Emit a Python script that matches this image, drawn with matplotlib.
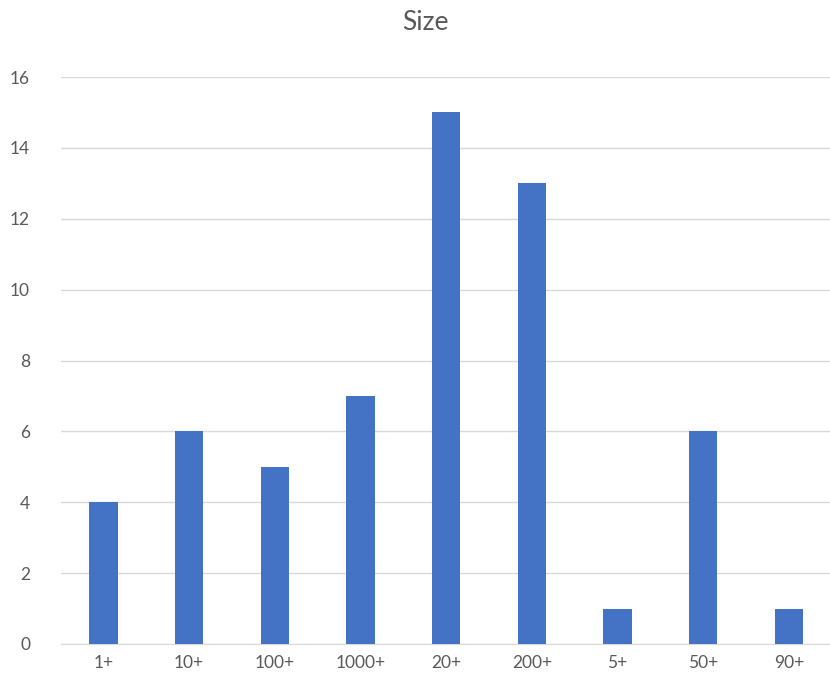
import matplotlib
matplotlib.use("Agg")
import matplotlib.pyplot as plt

categories = ["1+", "10+", "100+", "1000+", "20+", "200+", "5+", "50+", "90+"]
values = [4, 6, 5, 7, 15, 13, 1, 6, 1]
yticks = [0, 2, 4, 6, 8, 10, 12, 14, 16]

plt.rcParams['font.family'] = ['Lato', 'DejaVu Sans']
fig = plt.figure(figsize=(8.3, 6.88), dpi=100)
ax = fig.add_axes([0.073, 0.064, 0.929, 0.824])
x = list(range(len(categories)))
ax.bar(x, values, width=0.33, color="#4472c4", zorder=3)
ax.set_xlim(-0.5, len(categories) - 0.5)
ax.set_ylim(0, 16)
ax.set_yticks(yticks)
ax.set_xticks(x)
ax.set_xticklabels(categories)
ax.grid(axis='y', color="#d9d9d9", linewidth=1, zorder=0)
for s in ["top", "right", "left"]:
    ax.spines[s].set_visible(False)
ax.spines["bottom"].set_color("#d9d9d9")
ax.tick_params(axis='both', length=0, colors="#595959", labelsize=12.5)
ax.tick_params(axis='y', pad=22)
ax.tick_params(axis='x', pad=8)
fig.text(0.513, 0.967, "Size", ha="center", va="center", fontsize=19, color="#595959")
fig.savefig("out.png", dpi=100)
